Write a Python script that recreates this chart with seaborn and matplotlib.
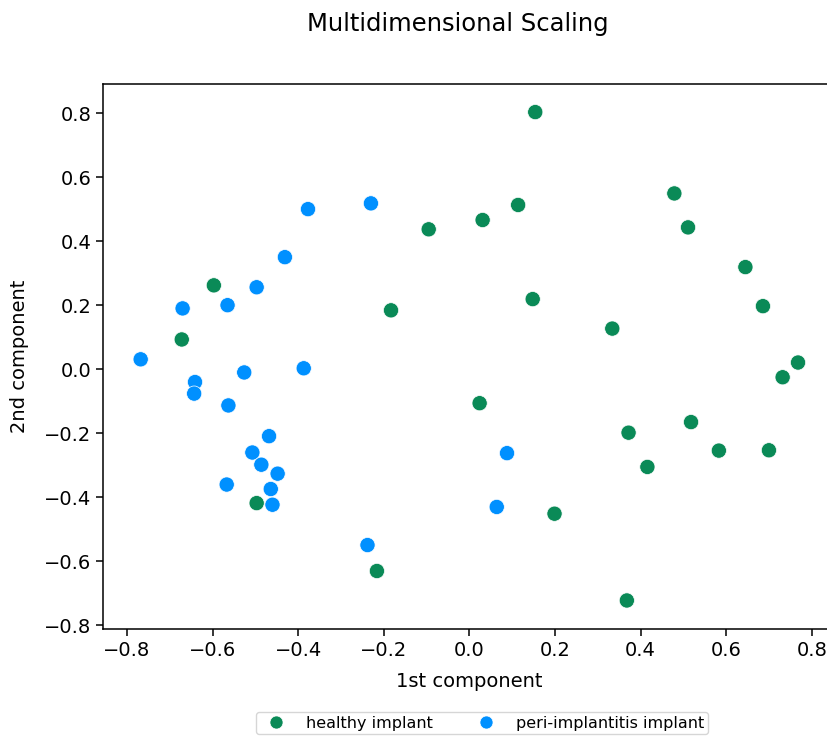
import pandas as pd
import matplotlib
matplotlib.use("Agg")
import matplotlib.pyplot as plt
import seaborn as sns

# MDS coordinates
healthy_x = [0.154, 0.479, 0.511, 0.114, 0.031, -0.095, 0.645, 0.686, 0.148, 0.334,
             -0.183, -0.597, -0.672, 0.768, 0.732, 0.024, 0.372, 0.518, 0.416, 0.583,
             0.700, 0.199, -0.497, -0.216, 0.368]
healthy_y = [0.803, 0.549, 0.443, 0.513, 0.466, 0.437, 0.319, 0.197, 0.219, 0.127,
             0.184, 0.262, 0.093, 0.021, -0.025, -0.106, -0.198, -0.165, -0.305, -0.254,
             -0.253, -0.451, -0.418, -0.630, -0.722]
peri_x = [-0.230, -0.377, -0.431, -0.497, -0.565, -0.670, -0.768, -0.526, -0.387, -0.641,
          -0.643, -0.563, -0.468, -0.507, -0.486, -0.448, -0.567, -0.464, -0.460, 0.088,
          0.064, -0.238]
peri_y = [0.518, 0.500, 0.350, 0.256, 0.200, 0.190, 0.031, -0.010, 0.003, -0.040,
          -0.076, -0.113, -0.209, -0.260, -0.298, -0.326, -0.360, -0.374, -0.423, -0.262,
          -0.430, -0.549]
groups = ["healthy implant", "peri-implantitis implant"]
colors = ["#0a8a57", "#0090ff"]

df = pd.concat([
    pd.DataFrame({"x": healthy_x, "y": healthy_y, "group": groups[0]}),
    pd.DataFrame({"x": peri_x, "y": peri_y, "group": groups[1]}),
])

fig = plt.figure(figsize=(8.28, 7.4), dpi=100)
# right edge of the axes runs past the figure, as in the cropped original
ax = fig.add_axes([0.1244, 0.1496, 0.8973, 0.737])

sns.scatterplot(data=df, x="x", y="y", hue="group", hue_order=groups,
                palette=colors, s=120, edgecolor="white", linewidth=0.5, ax=ax)

ax.set_xlim(-0.856, 0.88)
ax.set_ylim(-0.812, 0.891)
ax.set_xticks([-0.8, -0.6, -0.4, -0.2, 0.0, 0.2, 0.4, 0.6, 0.8])
ax.set_yticks([-0.8, -0.6, -0.4, -0.2, 0.0, 0.2, 0.4, 0.6, 0.8])
ax.tick_params(labelsize=14, length=5, width=1.1)
for sp in ax.spines.values():
    sp.set_linewidth(1.1)
ax.set_xlabel("1st component", fontsize=14)
ax.set_ylabel("2nd component", fontsize=14, labelpad=11)
ax.xaxis.set_label_coords(0.4924, -0.078)

fig.text(0.553, 0.958, "Multidimensional Scaling", fontsize=17.5,
         ha="center", va="baseline")

# legend below the plot
handles, labels = ax.get_legend_handles_labels()
ax.get_legend().remove()
for h in handles:
    h.set_markersize(9.4)
fig.legend(handles, labels, loc="upper center", bbox_to_anchor=(0.582, 0.0385),
           ncol=2, fontsize=11.5, frameon=True, borderpad=0.25, borderaxespad=0,
           columnspacing=2.3, handletextpad=0.9)

fig.savefig("out.png", dpi=100)
